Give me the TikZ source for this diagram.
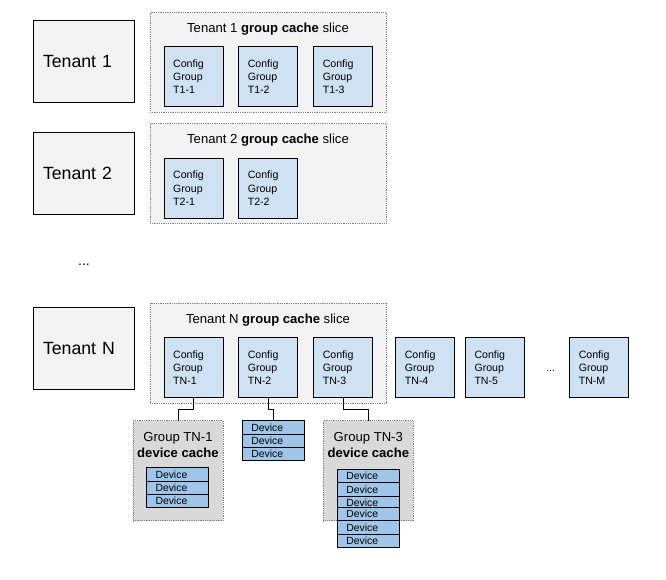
\documentclass[tikz,border=0pt]{standalone}
\usepackage{fontspec}
\setmainfont{Liberation Sans}
\usetikzlibrary{calc}

\begin{document}
\begin{tikzpicture}[x=1pt,y=-1pt,font=\fontsize{10.6}{13.3}\selectfont,
    tenantbox/.style={draw=black,line width=0.9pt,fill=boxgrey,outer sep=0pt,
      text width=81pt,inner xsep=10pt,minimum height=82pt,align=left,
      font=\fontsize{17.7}{20}\selectfont},
    slicebox/.style={draw=dotgrey,densely dotted,line width=0.8pt,fill=boxgrey,
      outer sep=0pt,minimum width=236pt,minimum height=100pt},
    slicetitle/.style={font=\fontsize{13.1}{15}\selectfont},
    cfgbox/.style={draw=black,line width=0.9pt,fill=cfgblue,outer sep=0pt,
      text width=41pt,inner xsep=9pt,minimum height=60pt,align=left},
    cachebox/.style={draw=dotgrey,densely dotted,line width=0.8pt,fill=cachegrey,
      outer sep=0pt,minimum width=90pt,minimum height=100pt},
    cachetitle/.style={align=center,font=\fontsize{13.1}{16.6}\selectfont},
    devbox/.style={draw=black,line width=0.9pt,fill=devblue,outer sep=0pt,
      text width=44pt,inner xsep=9pt,inner ysep=0pt,minimum height=13.3pt,
      align=left,font=\fontsize{10.4}{12}\selectfont},
    link/.style={draw=black,line width=0.9pt}]
  \definecolor{boxgrey}{HTML}{F3F3F3}
  \definecolor{cachegrey}{HTML}{D9D9D9}
  \definecolor{dotgrey}{HTML}{808080}
  \definecolor{cfgblue}{HTML}{CFE2F3}
  \definecolor{devblue}{HTML}{9FC5E8}
  \useasboundingbox (0,0) rectangle (666,579);

  \foreach \t/\y in {1/61.3,2/173,N/348.5}
    \node[tenantbox] (tenant-\t) at (83.5,\y) {Tenant \t};
  \node (dots-left) at (84,265) {\fontsize{14}{14}\selectfont ...};

  \foreach \t/\y in {1/62.2,2/173.3,N/353}{
    \node[slicebox] (slice-\t) at (268,\y) {};
    \node[slicetitle,anchor=center] (slice-\t-title) at ($(slice-\t.north)+(0,17)$)
      {Tenant \t{} \textbf{group cache} slice};
  }

  \foreach \x/\i in {193.7/1,268.3/2,343.3/3}
    \node[cfgbox] (cfg-1-\i) at (\x,76.7) {Config\\Group\\T1-\i};
  \foreach \x/\i in {193.7/1,268.3/2}
    \node[cfgbox] (cfg-2-\i) at (\x,188.3) {Config\\Group\\T2-\i};
  \foreach \x/\i in {193.7/1,268.3/2,343.3/3,425.3/4,495/5,599.3/M}
    \node[cfgbox] (cfg-N-\i) at (\x,367.6) {Config\\Group\\TN-\i};
  \node (dots-right) at (550.7,370.5) {...};

  \node[cachebox] (cache-N-1) at (178,470.7) {};
  \node[cachetitle] at (178,445) {Group TN-1\\\textbf{device cache}};
  \node[cachebox] (cache-N-3) at (368.3,470.7) {};
  \node[cachetitle] at (368.3,445) {Group TN-3\\\textbf{device cache}};

  \foreach \y [count=\i] in {474.3,487.7,501}
    \node[devbox] (dev-N-1-\i) at (177.5,\y) {Device};
  \foreach \y [count=\i] in {427.3,440.7,454}
    \node[devbox] (dev-N-2-\i) at (273.3,\y) {Device};
  \foreach \y [count=\i] in {476,489.3,502.7,514,527.3,540.7}
    \node[devbox] (dev-N-3-\i) at (368.3,\y) {Device};

  \draw[link] (cfg-N-1.south) |- ($(cfg-N-1.south)!.5!(cache-N-1.north)$) -| (cache-N-1.north);
  \draw[link] (cfg-N-2.south) |- ($(cfg-N-2.south)!.5!(dev-N-2-1.north)$) -| (dev-N-2-1.north);
  \draw[link] (cfg-N-3.south) |- ($(cfg-N-3.south)!.5!(cache-N-3.north)$) -| (cache-N-3.north);
\end{tikzpicture}
\end{document}
